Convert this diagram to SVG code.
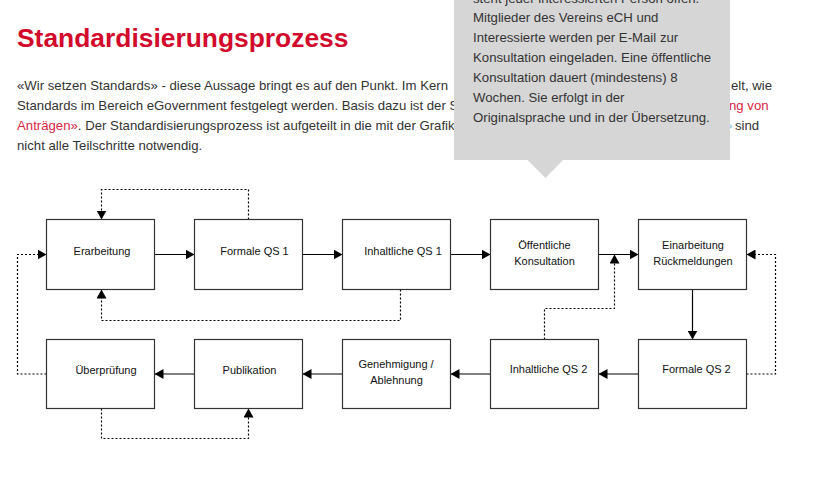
<svg xmlns="http://www.w3.org/2000/svg" width="820" height="479" viewBox="0 0 820 479">
<style>
.bg{fill:#ffffff}
.title{font-family:"Liberation Sans",Arial,sans-serif;font-size:26.4px;font-weight:bold;fill:#d20a2b}
.p{font-family:"Liberation Sans",Arial,sans-serif;font-size:13.2px;fill:#333333}
.link{fill:#d8253f}
.blue{fill:#7cc3e6}
.tip{fill:#d6d6d6}
.tt{font-family:"Liberation Sans",Arial,sans-serif;font-size:13.2px;fill:#333333}
.box{fill:#ffffff;stroke:#333333;stroke-width:1.2}
.lbl{font-family:"Liberation Sans",Arial,sans-serif;font-size:11px;fill:#111111;text-anchor:middle}
.solid{fill:none;stroke:#000000;stroke-width:1.2;marker-end:url(#ah)}
.dot{fill:none;stroke:#000000;stroke-width:1.2;stroke-dasharray:2 2;marker-end:url(#ah)}
</style>
<defs>
<marker id="ah" markerUnits="userSpaceOnUse" markerWidth="10" markerHeight="10" refX="9" refY="5" orient="auto">
<path d="M0,0 L9,5 L0,10 z" fill="#000000"/>
</marker>
</defs>
<rect class="bg" x="0" y="0" width="820" height="479"/>

<text class="title" x="17" y="47">Standardisierungsprozess</text>

<g id="paragraph">
<text class="p" x="17" y="90">«Wir setzen Standards» - diese Aussage bringt es auf den Punkt. Im Kern</text>
<text class="p" x="17" y="110">Standards im Bereich eGovernment festgelegt werden. Basis dazu ist der S</text>
<text class="p" x="17" y="130"><tspan class="link">Anträgen»</tspan>. Der Standardisierungsprozess ist aufgeteilt in die mit der Grafik</text>
<text class="p" x="17" y="150">nicht alle Teilschritte notwendig.</text>
<text class="p" x="731" y="90">elt, wie</text>
<text class="p link" x="729" y="110">ng von</text>
<text class="p blue" x="725" y="130">»</text>
<text class="p" x="735" y="130">sind</text>
</g>

<g id="connectors">
<path class="solid" d="M154.5,254.5 H194.5"/>
<path class="solid" d="M302.5,254.5 H342.5"/>
<path class="solid" d="M450.5,254.5 H490.5"/>
<path class="solid" d="M598.5,254.5 H638.5"/>
<path class="solid" d="M692.5,289.5 V339.5"/>
<path class="solid" d="M638.5,374 H598.5"/>
<path class="solid" d="M490.5,374 H450.5"/>
<path class="solid" d="M342.5,374 H302.5"/>
<path class="solid" d="M194.5,374 H154.5"/>
<path class="dot" d="M248.5,219.5 V189.5 H101.5 V219.5"/>
<path class="dot" d="M400.5,289.5 V320.5 H101.5 V289.5"/>
<path class="dot" d="M46.5,374 H17.5 V254.5 H46.5"/>
<path class="dot" d="M101.5,408.5 V438.5 H248.5 V408.5"/>
<path class="dot" d="M544.5,339.5 V308.5 H614.5 V254.5"/>
<path class="dot" d="M746.5,374 H775.5 V254.5 H746.5"/>
</g>

<g id="erarbeitung"><rect class="box" x="46.5" y="219.5" width="108" height="70"/><text class="lbl" x="102" y="254.5">Erarbeitung</text></g>
<g id="formale-qs1"><rect class="box" x="194.5" y="219.5" width="108" height="70"/><text class="lbl" x="254.5" y="254.5">Formale QS 1</text></g>
<g id="inhaltliche-qs1"><rect class="box" x="342.5" y="219.5" width="108" height="70"/><text class="lbl" x="403" y="254.5">Inhaltliche QS 1</text></g>
<g id="oeffentliche-konsultation"><rect class="box" x="490.5" y="219.5" width="108" height="70"/><text class="lbl" x="544.5" y="249">Öffentliche</text><text class="lbl" x="544.5" y="264.5">Konsultation</text></g>
<g id="einarbeitung"><rect class="box" x="638.5" y="219.5" width="108" height="70"/><text class="lbl" x="693" y="249">Einarbeitung</text><text class="lbl" x="693" y="264.5">Rückmeldungen</text></g>
<g id="formale-qs2"><rect class="box" x="638.5" y="339.5" width="108" height="69"/><text class="lbl" x="696.5" y="373">Formale QS 2</text></g>
<g id="inhaltliche-qs2"><rect class="box" x="490.5" y="339.5" width="108" height="69"/><text class="lbl" x="548.5" y="373">Inhaltliche QS 2</text></g>
<g id="genehmigung"><rect class="box" x="342.5" y="339.5" width="108" height="69"/><text class="lbl" x="396" y="368">Genehmigung /</text><text class="lbl" x="396.5" y="384">Ablehnung</text></g>
<g id="publikation"><rect class="box" x="194.5" y="339.5" width="108" height="69"/><text class="lbl" x="249.5" y="374">Publikation</text></g>
<g id="ueberpruefung"><rect class="box" x="46.5" y="339.5" width="108" height="69"/><text class="lbl" x="106" y="374">Überprüfung</text></g>

<g id="tooltip">
<rect class="tip" x="454" y="-5" width="276" height="165"/>
<polygon class="tip" points="527,159.5 563.5,159.5 545.5,178"/>
<text class="tt" x="473" y="2.5">steht jeder interessierten Person offen.</text>
<text class="tt" x="473" y="22">Mitglieder des Vereins eCH und</text>
<text class="tt" x="473" y="42">Interessierte werden per E-Mail zur</text>
<text class="tt" x="473" y="62">Konsultation eingeladen. Eine öffentliche</text>
<text class="tt" x="473" y="82">Konsultation dauert (mindestens) 8</text>
<text class="tt" x="473" y="102">Wochen. Sie erfolgt in der</text>
<text class="tt" x="473" y="122">Originalsprache und in der Übersetzung.</text>
</g>
</svg>
